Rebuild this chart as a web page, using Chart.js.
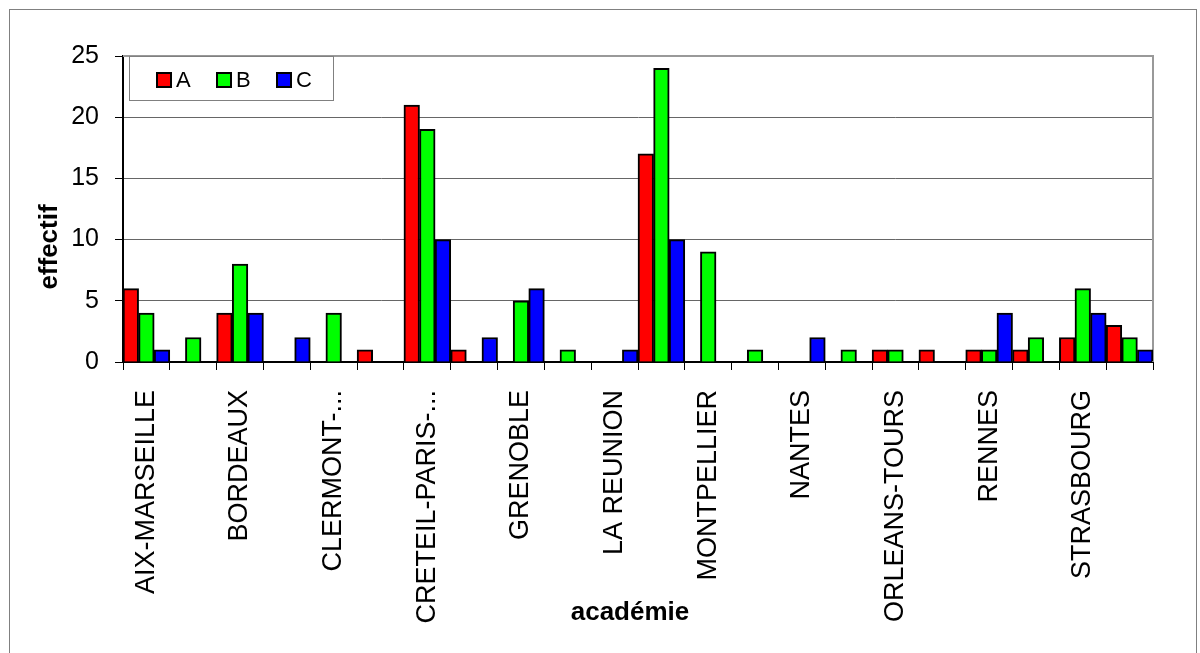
<!DOCTYPE html>
<html lang="fr">
<head>
  <meta charset="UTF-8" />
  <title>Effectif par académie</title>
  <script src="https://cdn.jsdelivr.net/npm/chart.js"></script>
  <style>
    html, body { margin: 0; padding: 0; background: #fff; }
    .chart-wrap { width: 1200px; height: 653px; position: relative; }
  </style>
</head>
<body>
  <div class="chart-wrap">
    <canvas id="acadChart" width="1200" height="653"></canvas>
  </div>

  <script>
    // données
    const academies = ['AIX-MARSEILLE', 'AMIENS', 'BORDEAUX', 'CAEN', 'CLERMONT-...', 'CORSE',
      'CRETEIL-PARIS-...', 'DIJON', 'GRENOBLE', 'GUADELOUPE', 'LA REUNION', 'LILLE',
      'MONTPELLIER', 'NANCY-METZ', 'NANTES', 'NICE', 'ORLEANS-TOURS', 'POITIERS',
      'RENNES', 'ROUEN', 'STRASBOURG', 'TOULOUSE'];
    const seriesNames = ['A', 'B', 'C'];
    const valuesA = [6, 0, 4, 0, 0, 1, 21, 1, 0, 0, 0, 17, 0, 0, 0, 0, 1, 1, 1, 1, 2, 3];
    const valuesB = [4, 2, 8, 0, 4, 0, 19, 0, 5, 1, 0, 24, 9, 1, 0, 1, 1, 0, 1, 2, 6, 2];
    const valuesC = [1, 0, 4, 2, 0, 0, 10, 2, 6, 0, 1, 10, 0, 0, 2, 0, 0, 0, 4, 0, 4, 1];
    const yTicks = [0, 5, 10, 15, 20, 25];

    const FONT = 'Arial, "Liberation Sans", sans-serif';
    const colors = ['#FF0000', '#00FF00', '#0000FF'];

    // cadre, bordure grise du tracé, légende encadrée et titres d'axes
    const decorations = {
      id: 'decorations',
      beforeDatasetsDraw(chart) {
        const a = chart.chartArea;
        const ctx = chart.ctx;
        ctx.save();
        ctx.strokeStyle = '#999';
        ctx.lineWidth = 2;
        ctx.beginPath();
        ctx.moveTo(a.left, a.top);
        ctx.lineTo(a.right, a.top);
        ctx.lineTo(a.right, a.bottom);
        ctx.stroke();
        ctx.restore();
      },
      afterDraw(chart) {
        const a = chart.chartArea;
        const ctx = chart.ctx;
        ctx.save();

        // cadre extérieur
        ctx.strokeStyle = '#808080';
        ctx.lineWidth = 1;
        ctx.strokeRect(9.5, 9.5, 1187, 700);

        // légende
        const lx = a.left + 6.5, ly = a.top + 0.5;
        ctx.strokeStyle = '#808080';
        ctx.strokeRect(lx, ly, 204, 44);
        ctx.font = '22px ' + FONT;
        ctx.textBaseline = 'middle';
        ctx.textAlign = 'left';
        chart.data.datasets.forEach((ds, i) => {
          const sx = a.left + 34 + i * 60, sy = a.top + 17;
          ctx.fillStyle = ds.backgroundColor;
          ctx.fillRect(sx, sy, 14, 14);
          ctx.strokeStyle = '#000';
          ctx.lineWidth = 2;
          ctx.strokeRect(sx, sy, 14, 14);
          ctx.fillStyle = '#000';
          ctx.fillText(ds.label, sx + 19, sy + 8);
        });

        // titres des axes
        ctx.fillStyle = '#000';
        ctx.font = 'bold 26px ' + FONT;
        ctx.textAlign = 'center';
        ctx.textBaseline = 'middle';
        ctx.fillText('académie', 630, 613);
        ctx.translate(50, 247);
        ctx.rotate(-Math.PI / 2);
        ctx.fillText('effectif', 0, 0);
        ctx.restore();
      }
    };

    const ctx = document.getElementById('acadChart').getContext('2d');
    new Chart(ctx, {
      type: 'bar',
      data: {
        labels: academies,
        datasets: [valuesA, valuesB, valuesC].map((vals, i) => ({
          label: seriesNames[i],
          data: vals,
          backgroundColor: colors[i],
          borderColor: '#000',
          borderWidth: 2,
          categoryPercentage: 1.0,
          barPercentage: 1.0
        }))
      },
      options: {
        responsive: false,
        animation: false,
        layout: { padding: { top: 56, right: 47, left: 0, bottom: 0 } },
        plugins: {
          legend: { display: false },
          tooltip: { enabled: false }
        },
        scales: {
          x: {
            grid: { offset: true, drawOnChartArea: false, drawTicks: true, tickLength: 8, tickColor: '#000' },
            border: { color: '#000', width: 2 },
            ticks: {
              autoSkip: false,
              minRotation: 90,
              maxRotation: 90,
              padding: 20,
              color: '#000',
              font: { family: FONT, size: 27 },
              callback: function (v, i) {
                return i % 2 === 0 ? this.getLabelForValue(v) : '';
              }
            },
            afterFit(scale) { scale.height = 291; }
          },
          y: {
            min: yTicks[0],
            max: yTicks[yTicks.length - 1],
            grid: { color: '#666', lineWidth: 1, tickLength: 8, tickColor: '#000' },
            border: { color: '#000', width: 2 },
            afterBuildTicks(scale) { scale.ticks = yTicks.map(v => ({ value: v })); },
            ticks: {
              padding: 16,
              color: '#000',
              font: { family: FONT, size: 25 }
            },
            afterFit(scale) { scale.width = 123; }
          }
        }
      },
      plugins: [decorations]
    });
  </script>
</body>
</html>
